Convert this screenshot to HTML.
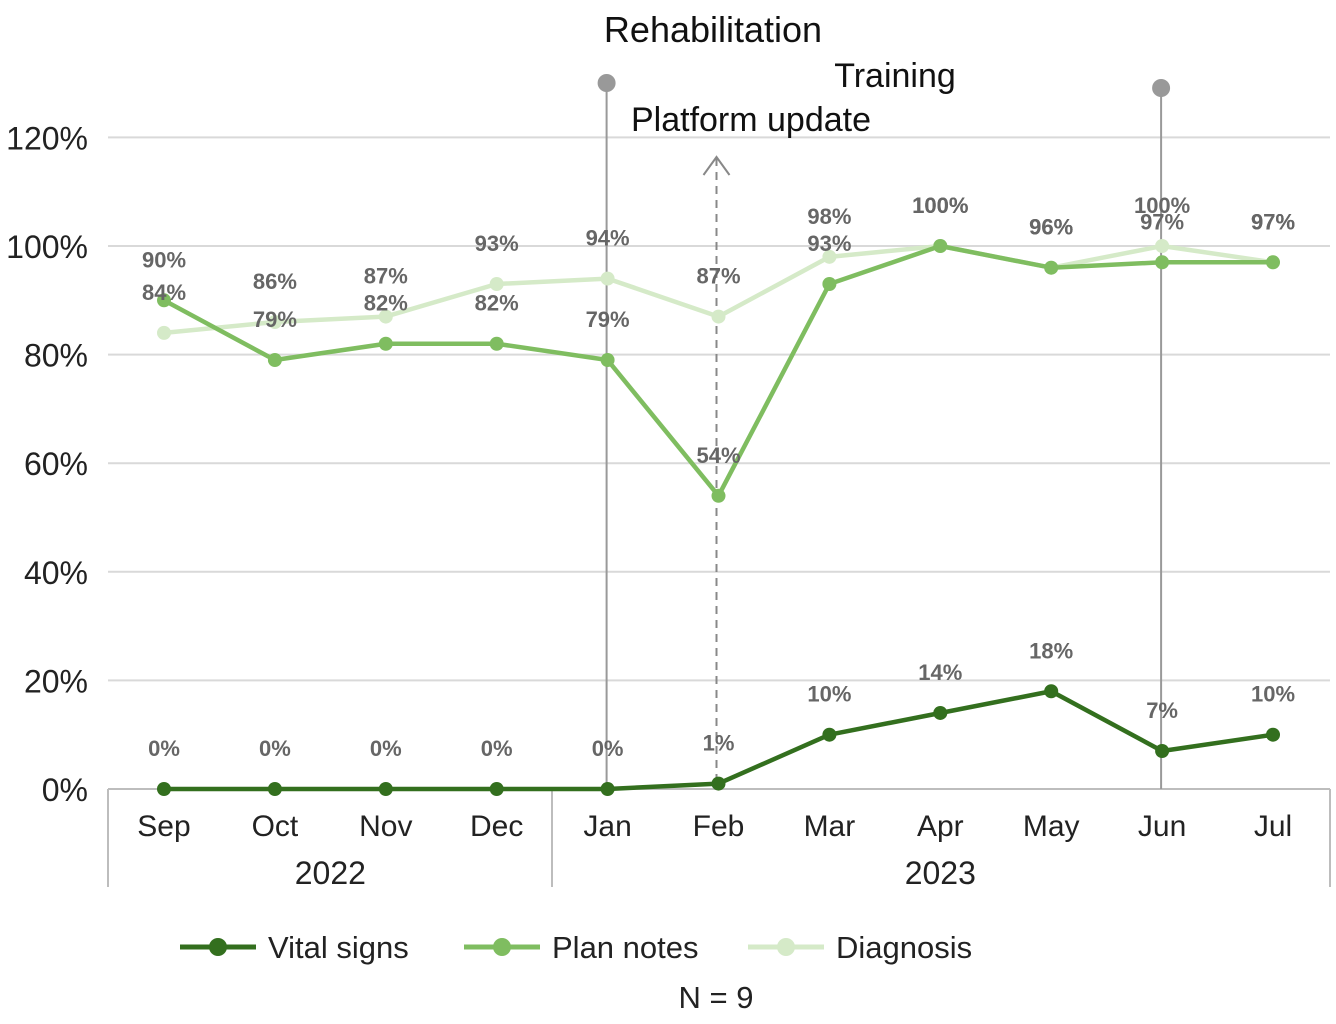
<!DOCTYPE html>
<html><head><meta charset="utf-8"><style>
body{margin:0;background:#fff;}
svg{display:block;font-family:"Liberation Sans","DejaVu Sans",sans-serif;}
</style></head><body>
<svg id="chart" width="1336" height="1024" viewBox="0 0 1336 1024"></svg>
<script>
const months=["Sep","Oct","Nov","Dec","Jan","Feb","Mar","Apr","May","Jun","Jul"];
const vitalSigns=[0,0,0,0,0,1,10,14,18,7,10];
const planNotes=[90,79,82,82,79,54,93,100,96,97,97];
const diagnosis=[84,86,87,93,94,87,98,100,96,100,97];
const yTicks=[0,20,40,60,80,100,120];
const years=[{label:"2022",from:0,to:3},{label:"2023",from:4,to:10}];

const svg=document.getElementById('chart');
const NS="http://www.w3.org/2000/svg";
function x(i){return 164+i*110.9;}
function y(v){return 789-v*5.43;}
function mk(tag,attrs,parent){const e=document.createElementNS(NS,tag);for(const k in attrs)e.setAttribute(k,attrs[k]);(parent||svg).appendChild(e);return e;}

// gridlines + y ticks
yTicks.forEach(t=>{
  const g=mk('line',{x1:108,x2:1330,y1:y(t),y2:y(t),stroke:t===0?'#bdbdbd':'#d9d9d9','stroke-width':2});
  
  
  const tx=mk('text',{x:88,y:y(t)+12,'text-anchor':'end','font-size':32,fill:'#222'});
  tx.textContent=t+'%';
  
  
});
// category separators
[108,552,1330].forEach((sx,i)=>{
  const l=mk('line',{x1:sx,x2:sx,y1:789,y2:887,stroke:'#bdbdbd','stroke-width':2});
  
  
});
months.forEach((m,i)=>{
  const t=mk('text',{x:x(i),y:836,'text-anchor':'middle','font-size':30,fill:'#222'});
  t.textContent=m;
  
  
});
years.forEach(yr=>{
  const t=mk('text',{x:(x(yr.from)+x(yr.to))/2,y:884,'text-anchor':'middle','font-size':32,fill:'#222'});
  t.textContent=yr.label;
  
  
});

// annotation lines
function vline(i,top,name){
  const l=mk('line',{x1:x(i)-1,x2:x(i)-1,y1:top,y2:789,stroke:'#999','stroke-width':2});
  
  
  const c=mk('circle',{cx:x(i)-1,cy:top,r:9,fill:'#999'});
  
  
}
vline(4,83,'rehabilitation');
vline(9,88,'training');
const dl=mk('line',{x1:x(5)-2,x2:x(5)-2,y1:158,y2:789,stroke:'#888','stroke-width':2,'stroke-dasharray':'8 6'});


const ah=mk('polyline',{points:`${x(5)-15},175 ${x(5)-2},157 ${x(5)+11},175`,fill:'none',stroke:'#888','stroke-width':2});


[["Rehabilitation",713,42,36,'middle'],["Training",895,87,34,'middle'],["Platform update",751,131,34,'middle']].forEach(a=>{
  const t=mk('text',{x:a[1],y:a[2],'text-anchor':a[4],'font-size':a[3],fill:'#111'});
  t.textContent=a[0];
  
  
});

function series(data,color,name){
  const p=mk('polyline',{points:data.map((v,i)=>x(i)+','+y(v)).join(' '),fill:'none',stroke:color,'stroke-width':4.5,'stroke-linejoin':'round'});
  
  
  data.forEach((v,i)=>{
    const c=mk('circle',{cx:x(i),cy:y(v),r:7,fill:color});
    
    
  });
}
function labels(data,name){
  data.forEach((v,i)=>{
    const t=mk('text',{x:x(i),y:y(v)-33,'text-anchor':'middle','font-size':22,'font-weight':'bold',fill:'#666'});
    t.textContent=v+'%';
    
    
  });
}
series(diagnosis,'#d5eac8','diagnosis');
series(planNotes,'#7fbd60','plan-notes');
series(vitalSigns,'#336f1e','vital-signs');
labels(diagnosis,'diagnosis');
labels(planNotes,'plan-notes');
labels(vitalSigns,'vital-signs');

// legend
[["Vital signs",'#336f1e',180],["Plan notes",'#7fbd60',464],["Diagnosis",'#d5eac8',748]].forEach(l=>{
  const g=mk('g',{});
  
  
  mk('line',{x1:l[2],x2:l[2]+76,y1:947,y2:947,stroke:l[1],'stroke-width':5},g);
  mk('circle',{cx:l[2]+38,cy:947,r:9,fill:l[1]},g);
  const t=mk('text',{x:l[2]+88,y:958,'font-size':31,fill:'#222'},g);
  t.textContent=l[0];
});
const n=mk('text',{x:716,y:1008,'text-anchor':'middle','font-size':31,fill:'#222'});
n.textContent='N = 9';


</script>
</body></html>
